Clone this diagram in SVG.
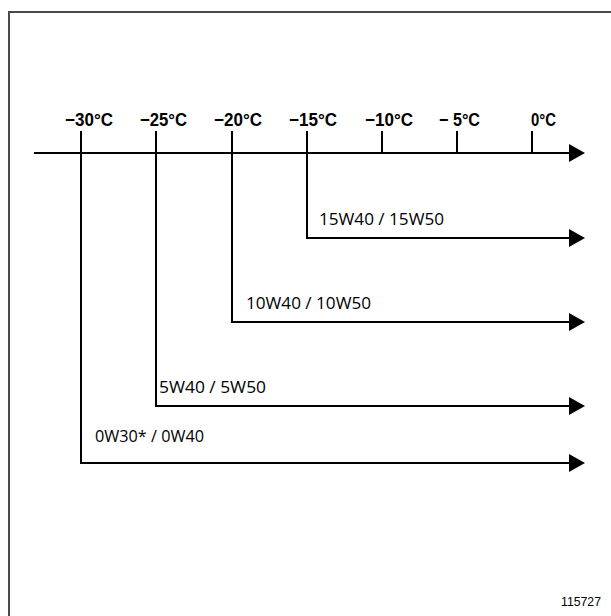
<svg xmlns="http://www.w3.org/2000/svg" width="611" height="616" viewBox="0 0 611 616">
<defs>
<style>
.frame{fill:none;stroke:#4a4a4a;stroke-width:2}
.ln{fill:none;stroke:#000;stroke-width:2}
.ah{fill:#000}
.temp{font-family:"Liberation Sans",Arial,sans-serif;font-weight:bold;font-size:18px;fill:#000}
.oil{font-family:"Open Sans","Noto Sans",sans-serif;font-size:16px;fill:#000}
.ref{font-family:"Liberation Sans",Arial,sans-serif;font-size:13px;fill:#000}
</style>
<marker id="arr" markerWidth="16" markerHeight="18" refX="1" refY="9" orient="auto" markerUnits="userSpaceOnUse">
<polygon points="0,0 16,9 0,18" class="ah"/>
</marker>
</defs>
<rect width="611" height="616" fill="#fff"/>
<path class="frame" d="M9,616 V12 H611"/>
<g id="connectors">
<line class="ln" x1="34" y1="153" x2="570" y2="153" marker-end="url(#arr)"/>
<path class="ln" d="M81,131 V153 M156,131 V153 M232,131 V153 M307,131 V153 M382,131 V153 M457,131 V153 M532,131 V153"/>
<path class="ln" d="M307,153 V238 H570" marker-end="url(#arr)"/>
<path class="ln" d="M232,153 V322 H570" marker-end="url(#arr)"/>
<path class="ln" d="M156,153 V406 H570" marker-end="url(#arr)"/>
<path class="ln" d="M81,153 V463 H570" marker-end="url(#arr)"/>
</g>
<g id="scale">
<text class="temp" x="65" y="126" textLength="48" lengthAdjust="spacingAndGlyphs">−30°C</text>
<text class="temp" x="140" y="126" textLength="47" lengthAdjust="spacingAndGlyphs">−25°C</text>
<text class="temp" x="214" y="126" textLength="48" lengthAdjust="spacingAndGlyphs">−20°C</text>
<text class="temp" x="289" y="126" textLength="48" lengthAdjust="spacingAndGlyphs">−15°C</text>
<text class="temp" x="365" y="126" textLength="48" lengthAdjust="spacingAndGlyphs">−10°C</text>
<text class="temp" x="439" y="126" textLength="41" lengthAdjust="spacingAndGlyphs">− 5°C</text>
<text class="temp" x="531" y="126" textLength="25" lengthAdjust="spacingAndGlyphs">0°C</text>
</g>
<g id="oil-15W"><text class="oil" x="319" y="225" textLength="125" lengthAdjust="spacingAndGlyphs">15W40 / 15W50</text></g>
<g id="oil-10W"><text class="oil" x="246" y="309" textLength="125" lengthAdjust="spacingAndGlyphs">10W40 / 10W50</text></g>
<g id="oil-5W"><text class="oil" x="159" y="393" textLength="107" lengthAdjust="spacingAndGlyphs">5W40 / 5W50</text></g>
<g id="oil-0W"><text class="oil" x="95" y="442" textLength="109" lengthAdjust="spacingAndGlyphs">0W30* / 0W40</text></g>
<text class="ref" x="561" y="606" textLength="40" lengthAdjust="spacingAndGlyphs">115727</text>
</svg>
